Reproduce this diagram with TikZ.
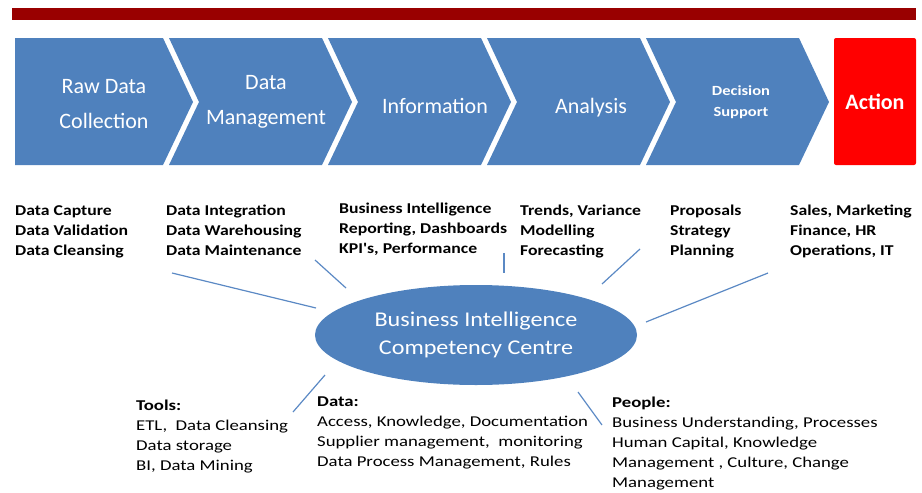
\documentclass[tikz,border=0pt]{standalone}
\usepackage{fontspec}
\setmainfont{Carlito}
\newfontfamily\smallfam{Carlito}[FakeStretch=1.25]
\newfontfamily\topfam{Carlito}[FakeStretch=1.18]
\newfontfamily\centrefam{Carlito}[FakeStretch=1.15]
\usetikzlibrary{shapes.geometric}
\definecolor{barred}{HTML}{990000}
\definecolor{chevblue}{HTML}{4F81BD}
\definecolor{actred}{HTML}{FF0000}
\definecolor{spokeblue}{HTML}{5B89C4}
\tikzset{
 chevtext/.style={text=white,align=center,font=\fontsize{22}{35}\selectfont},
 topblock/.style={anchor=north west,inner sep=0pt,align=left,font=\topfam\bfseries\fontsize{15}{20}\selectfont},
 lowblock/.style={anchor=north west,inner sep=0pt,align=left,font=\smallfam\fontsize{15}{20}\selectfont},
 spoke/.style={draw=spokeblue,line width=1.2pt}
}
\begin{document}
\begin{tikzpicture}[x=1pt,y=-1pt]
 \useasboundingbox (0,0) rectangle (922,493);
 \fill[barred] (12,8) rectangle (916,20);
 % process chevrons
 \fill[chevblue] (15,38) -- (163,38) -- (193,102) -- (163,165) -- (15,165) -- cycle;
 \foreach \i in {1,...,4}
    \fill[chevblue,xshift=159*\i] (10,38) -- (163,38) -- (193,102) -- (163,165) -- (10,165) -- (40,102) -- cycle;
 \fill[actred,rounded corners=2pt] (834,38) rectangle (916,165);
 \node[chevtext] (raw) at (104,104) {Raw Data\\Collection};
 \node[chevtext] (mgmt) at (266,102) {Data\\Management};
 \node[chevtext] (info) at (435,106) {Information};
 \node[chevtext] (anal) at (591,108) {Analysis};
 \node[chevtext,font=\topfam\bfseries\fontsize{14}{21}\selectfont] (dec) at (741,102) {Decision\\Support};
 \node[chevtext,font=\bfseries\fontsize{22}{26}\selectfont] (act) at (875,102) {Action};
 % what each step holds
 \node[topblock] (capt) at (15,205) {Data Capture\\Data Validation\\Data Cleansing};
 \node[topblock] (integ) at (166,205) {Data Integration\\Data Warehousing\\Data Maintenance};
 \node[topblock] (bi) at (339,203) {Business Intelligence\\Reporting, Dashboards\\KPI's, Performance};
 \node[topblock] (trend) at (520,205) {Trends, Variance\\Modelling\\Forecasting};
 \node[topblock] (prop) at (670,205) {Proposals\\Strategy\\Planning};
 \node[topblock] (sales) at (790,205) {Sales, Marketing\\Finance, HR\\Operations, IT};
 % competency centre
 \node[ellipse,fill=chevblue,minimum width=322,minimum height=100,inner sep=0pt,
   text=white,align=center,font=\centrefam\fontsize{21}{28}\selectfont] (bicc) at (476,335)
   {Business Intelligence\\Competency Centre};
 \node[lowblock] (tools) at (136,400) {\textbf{Tools:}\\ETL,~ Data Cleansing\\Data storage\\BI, Data Mining};
 \node[lowblock] (data) at (317,397) {\textbf{Data:}\\Access, Knowledge, Documentation\\Supplier management,~ monitoring\\Data Process Management, Rules};
 \node[lowblock] (people) at (612,397) {\textbf{People:}\\Business Understanding, Processes\\Human Capital, Knowledge\\Management , Culture, Change\\Management};
 % spokes
 \foreach \ax/\ay/\bx/\by [count=\k] in {172/273/316/308, 315/260/346/288, 504/253/504/273,
    640/249/602/284, 768/273/646/322, 293/412/325/375, 602/425/578/392}{
    \coordinate (out\k) at (\ax,\ay);
    \coordinate (in\k) at (\bx,\by);
    \draw[spoke] (out\k) -- (in\k);
 }
\end{tikzpicture}
\end{document}
